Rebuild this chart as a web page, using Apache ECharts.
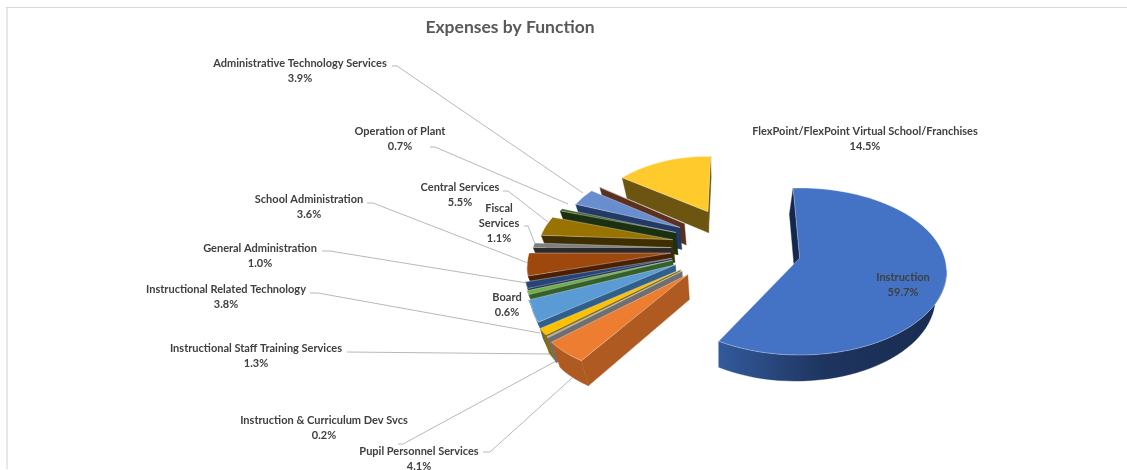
<!DOCTYPE html>
<html><head><meta charset="utf-8">
<style>html,body{margin:0;padding:0;background:#fff}#c{width:1127px;height:470px}</style>
<script src="https://cdn.jsdelivr.net/npm/echarts@6/dist/echarts.min.js"></script>
</head><body><div id="c"></div>
<script>
const titleText = 'Expenses by Function';
const categories = ['Instruction','Pupil Personnel Services','Instruction & Curriculum Dev Svcs','Instructional Staff Training Services','Instructional Related Technology','Board','General Administration','School Administration','Fiscal Services','Central Services','Operation of Plant','Administrative Technology Services','Other','FlexPoint/FlexPoint Virtual School/Franchises'];
const values = [59.7,4.1,0.2,1.3,3.8,0.6,1.0,3.6,1.1,5.5,0.7,3.9,0.1,14.5];
const topColors = ['#4472C4','#ED7D31','#A5A5A5','#FFC000','#5B9BD5','#70AD47','#264478','#9E480E','#7F7F7F','#997300','#43682B','#698ED0','#7B4A2A','#FFCA2C'];
const wallColors = ['#14284F','#AE5A21','#6F6F6F','#8A6D0A','#2F5F8A','#36602A','#1A2F55','#4A2000','#2B2B2B','#3F2F00','#1B3010','#243A66','#5A3020','#6B5510'];
const explosion = [0.85,1,1,1,1,1,1,1,1,1,1,1,1,1];
const widthFactor = [1,1,1,1,1,1,1,1,1,1,1,0.94,0.92,1];

// pie projection parameters
const startAngle = -3, center = [742,245], explodeX = 70, explodeY = 38;
const radiusX = 145, radiusY = 81.3, perspective = 0.162, depth = 24;
const total = values.reduce((a,b)=>a+b,0);

function sliceGeometry(i){
  let acc = 0; for(let k=0;k<i;k++) acc += values[k];
  const a0 = startAngle + acc/total*360, a1 = a0 + values[i]/total*360;
  const mid = (a0+a1)/2*Math.PI/180;
  const midV = -Math.cos(mid), left = Math.sin(mid)<0;
  const ax = center[0]+explosion[i]*explodeX*Math.sin(mid)-(left?13*Math.max(0,midV):0);
  const ay = center[1]-explosion[i]*explodeY*Math.cos(mid)+(i===0?5:0);
  const s = 1+(ay-258)*0.0045;
  // the camera rotates the fan on the left and stretches the far rim of the pie
  const bump = d => d<240||d>290 ? 0 : (d<265 ? (d-240)/25 : (290-d)/25)*6;
  const warp = d => i===0 ? d-Math.max(0,d-150)*0.05 : d+bump(d)+Math.max(0,d-300)*0.08;
  const pt = d=>{const t=warp(d)*Math.PI/180,v=-Math.cos(t),q=1-perspective*v;
    const wide = (i>0 ? 1+0.3*Math.max(0,v-0.45) : 1)*widthFactor[i];
    return [ax+s*wide*radiusX*Math.sin(t)/q, ay+s*radiusY*v/q];};
  const arc=[]; const n=Math.max(1,Math.ceil((a1-a0)/3));
  for(let j=0;j<=n;j++) arc.push(pt(a0+(a1-a0)*j/n));
  return {apex:[ax,ay],arc,s,d:i===0?depth+2:depth};
}
const drop=(p,g)=>[720+(p[0]-720)*0.95, p[1]+g.d+(g.s-1)*15];
function wallQuad(a,b,g){return [a,b,drop(b,g),drop(a,g)];}

function renderSlice(params,api){
  const i=api.value(0), g=sliceGeometry(i), children=[];
  const wall=(points,fill)=>children.push({type:'polygon',shape:{points},style:{fill,stroke:fill,lineWidth:0.4}});
  const arcFill = i===0 ? {type:'linear',x:0,y:0,x2:1,y2:0,colorStops:[{offset:0,color:'#335A9C'},{offset:0.45,color:'#1E3560'},{offset:1,color:'#192B4F'}]} : wallColors[i];
  const path=[g.apex,...g.arc,g.apex];
  if(path[1][0]<g.apex[0]) wall(wallQuad(g.apex,path[1],g),wallColors[i]);
  const last=g.arc[g.arc.length-1];
  if(g.apex[0]<last[0]) wall(wallQuad(last,g.apex,g),wallColors[i]);
  const upper=[];
  for(let j=0;j<g.arc.length-1;j++){ if(g.arc[j+1][0]<g.arc[j][0]){ upper.push(g.arc[j]); if(j===g.arc.length-2||!(g.arc[j+2]&&g.arc[j+2][0]<g.arc[j+1][0])) upper.push(g.arc[j+1]); } }
  if(upper.length>1) wall([...upper,...upper.slice().reverse().map(p=>drop(p,g))],arcFill);
  children.push({type:'polygon',shape:{points:[g.apex,...g.arc]},style:{fill:topColors[i],stroke:'rgba(255,255,255,0.55)',lineWidth:0.6}});
  return {type:'group',children};
}

const drawOrder=[13,12,11,10,9,8,7,6,5,4,3,2,1,0];
const sliceData=drawOrder.map(i=>[i,values[i]]);

// label layout: centre x, first-line y, wrapped name, leader polyline
const labelLayout=[
 {i:11,x:300,y:63,lines:['Administrative Technology Services'],leader:[[392,66],[397,66],[583,193]]},
 {i:10,x:400,y:131,lines:['Operation of Plant'],leader:[[430,147],[435,147],[568,204]]},
 {i:9,x:460,y:187,lines:['Central Services'],leader:[[503,191],[508,191],[548,222]]},
 {i:8,x:499,y:208,lines:['Fiscal','Services'],leader:[[524,226],[528,226],[535,244]]},
 {i:7,x:309,y:199,lines:['School Administration'],leader:[[367,203],[373,203],[528,263]]},
 {i:6,x:260,y:248,lines:['General Administration'],leader:[[322,251],[330,251],[527,283]]},
 {i:4,x:226,y:289,lines:['Instructional Related Technology'],leader:[[310,293],[318,293],[540,333]]},
 {i:5,x:507,y:297,lines:['Board'],leader:null},
 {i:3,x:256,y:348,lines:['Instructional Staff Training Services'],leader:[[347,352],[550,354]]},
 {i:2,x:324,y:420,lines:['Instruction & Curriculum Dev Svcs'],leader:[[398,444],[403,444],[558,360]]},
 {i:1,x:419,y:451,lines:['Pupil Personnel Services'],leader:[[483,452],[490,452],[572,378]]},
 {i:13,x:865,y:131,lines:['FlexPoint/FlexPoint Virtual School/Franchises'],leader:null},
 {i:0,x:903,y:277,lines:['Instruction'],leader:null}
];
const font='bold 11px Lato';
const graphics=[
 {type:'line',shape:{x1:6,y1:7.5,x2:1127,y2:7.5},style:{stroke:'#D9D9D9',lineWidth:1}},
 {type:'rect',shape:{x:6,y:8,width:2,height:461},style:{fill:'#E8E8E8'}}
];
labelLayout.forEach(l=>{
  if(l.leader) graphics.push({type:'polyline',shape:{points:l.leader},style:{stroke:'#A6A6A6',lineWidth:0.8,fill:'none'},z:1});
  const rows=[...l.lines,values[l.i].toFixed(1)+'%'];
  rows.forEach((t,k)=>graphics.push({type:'text',x:l.x,y:l.y+k*15.2+0.5,z:20,style:{text:t,font,fill:'#404040',align:'center',verticalAlign:'middle'}}));
});

const chart=echarts.init(document.getElementById('c'),null,{renderer:'canvas',width:1127,height:470});
chart.setOption({
  animation:false,
  title:{text:titleText,left:505,top:13,textAlign:'center',textStyle:{fontFamily:'Lato',fontWeight:'bold',fontSize:17.5,color:'#595959'}},
  graphic:graphics,
  series:[{type:'custom',coordinateSystem:'none',silent:true,renderItem:renderSlice,data:sliceData,z:5}]
});
</script></body></html>
